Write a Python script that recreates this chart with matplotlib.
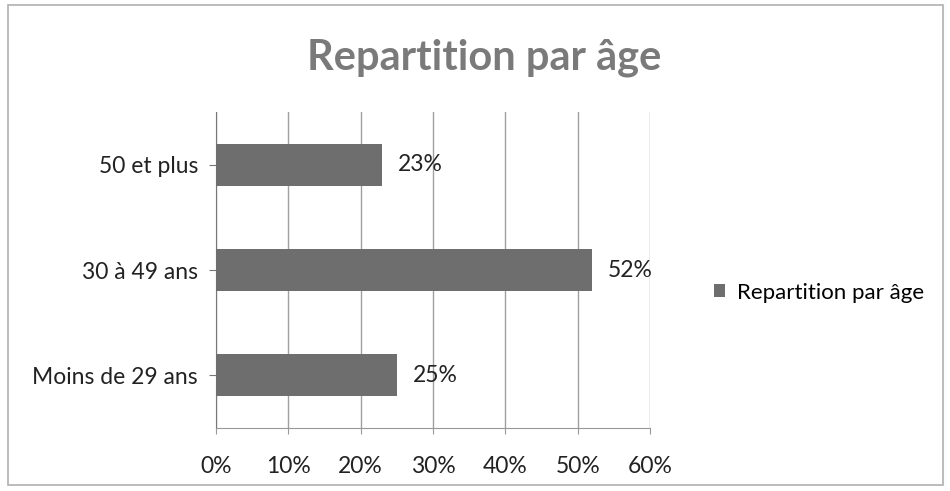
import matplotlib.pyplot as plt
from matplotlib.patches import Rectangle
from matplotlib.ticker import FuncFormatter

categories = ["Moins de 29 ans", "30 à 49 ans", "50 et plus"]
values = [0.25, 0.52, 0.23]
labels = ["25%", "52%", "23%"]
series_name = "Repartition par âge"
x_ticks = [0, 0.1, 0.2, 0.3, 0.4, 0.5, 0.6]

plt.rcParams['font.family'] = ['Lato', 'DejaVu Sans']

fig = plt.figure(figsize=(9.5, 4.91), dpi=100)
# chart border
fig.patches.append(Rectangle((0.008, 0.012), 0.985, 0.978, transform=fig.transFigure,
                             fill=False, edgecolor='#b0b0b0', linewidth=1.2))

ax = fig.add_axes([0.2274, 0.1283, 0.4568, 0.6436])
bars = ax.barh(range(len(categories)), values, height=0.4, color='#6e6e6e',
               label=series_name, zorder=3)
ax.set_xlim(0, 0.6)
ax.set_ylim(-0.5, 2.5)
ax.set_xticks(x_ticks)
ax.xaxis.set_major_formatter(FuncFormatter(lambda v, p: f"{v*100:.0f}%"))
ax.set_yticks(range(len(categories)))
ax.set_yticklabels(categories)
ax.grid(axis='x', color='#a0a0a0', linewidth=1, zorder=0)
for s in ['top', 'right']:
    ax.spines[s].set_visible(False)
ax.spines['left'].set_color('#777777')
ax.spines['bottom'].set_color('#999999')
ax.tick_params(axis='y', length=5, color='#777777', labelsize=16.5, pad=8,
               labelcolor='#222222')
ax.tick_params(axis='x', length=4, color='#999999', labelsize=16.5, pad=16,
               labelcolor='#222222')

for b, lab in zip(bars, labels):
    ax.text(b.get_width() + 0.022, b.get_y() + b.get_height() / 2, lab,
            va='center', ha='left', fontsize=16.5, color='#222222')

fig.text(0.51, 0.883, series_name, ha='center', va='center', fontsize=30,
         fontweight='bold', color='#7a7a7a')

fig.legend(loc='center left', bbox_to_anchor=(0.73, 0.404), frameon=False,
           fontsize=16, handlelength=0.5, handleheight=0.5, handletextpad=0.55)

fig.savefig('out.png', dpi=100, facecolor='white')
